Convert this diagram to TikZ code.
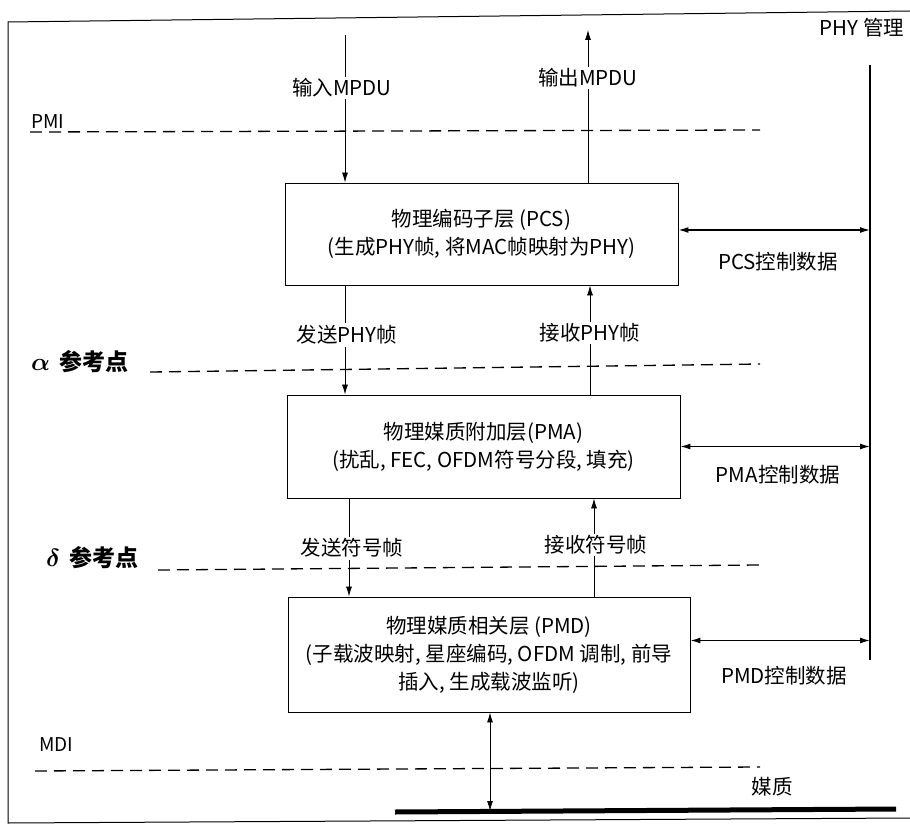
\documentclass[tikz,border=0pt]{standalone}
\usepackage{fontspec}
\usepackage{bm}
\setmainfont{Noto Sans CJK SC}
\usetikzlibrary{arrows.meta}
\begin{document}
\begin{tikzpicture}[x=1pt,y=-1pt,
  every node/.style={font=\fontsize{20.5}{28}\selectfont, inner sep=1pt},
  layerbox/.style={draw, line width=0.9pt, align=center, minimum width=393pt, minimum height=102pt},
  flow/.style={line width=0.8pt, -{Latex[length=10pt,width=6pt]}},
  ctrl/.style={line width=1.3pt, {Latex[length=10pt,width=6pt]}-{Latex[length=10pt,width=6pt]}},
  refline/.style={line width=1.3pt, dash pattern=on 12pt off 7pt},
  lbl/.style={fill=white, inner sep=2pt},
  reflbl/.style={font=\fontsize{23}{25}\selectfont\bfseries, anchor=west},
  frameline/.style={line width=1pt}
]
\useasboundingbox (0,0) rectangle (910,826);
% frame
\coordinate (fTL) at (8,22);
\coordinate (fTR) at (910,11);
\coordinate (fBL) at (8,823);
\coordinate (fBR) at (910,818);
\draw[frameline] (fTR) -- (fTL) -- (fBL) -- (fBR);

% boxes
\node[layerbox] (pcs) at (481.5,234) {物理编码子层 (PCS)\\(生成PHY帧, 将MAC帧映射为PHY)};
\node[layerbox, minimum height=103pt] (pma) at (483.5,446.5) {物理媒质附加层(PMA)\\(扰乱, FEC, OFDM符号分段, 填充)};
\node[layerbox, minimum width=402pt, minimum height=115pt] (pmd) at (489,654.5) {物理媒质相关层 (PMD)\\(子载波映射, 星座编码, OFDM 调制, 前导\\插入, 生成载波监听)};

% PHY management
\node (mgmtlbl) at (862,28) {PHY 管理};
\coordinate (mT) at (870,65);
\coordinate (mB) at (870,660);
\draw[line width=2.6pt] (mT) -- (mB);

% reference lines
\node[reflbl, font=\fontsize{19}{22}\selectfont] (pmi) at (30,122) {PMI};
\coordinate (pmiL) at (30,132); \coordinate (pmiR) at (760,130);
\draw[refline] (pmiL) -- (pmiR);
\node[reflbl] (alpha) at (30,362) {$\bm{\alpha}$\, 参考点};
\coordinate (aL) at (150,372); \coordinate (aR) at (760,364);
\draw[refline] (aL) -- (aR);
\node[reflbl] (delta) at (45,558) {$\bm{\delta}$\, 参考点};
\coordinate (dL) at (158,570); \coordinate (dR) at (760,565);
\draw[refline] (dL) -- (dR);
\node[reflbl, font=\fontsize{19}{22}\selectfont] (mdi) at (38,745) {MDI};
\coordinate (mdiL) at (35,771); \coordinate (mdiR) at (760,767);
\draw[refline] (mdiL) -- (mdiR);

% input / output MPDU
\coordinate (inT) at (345,35);
\draw[flow] (inT) -- (inT |- pcs.north);
\node[lbl] (inl) at (342,88) {输入MPDU};
\coordinate (outT) at (588,30);
\draw[flow] (outT |- pcs.north) -- (outT);
\node[lbl] (outl) at (588,78) {输出MPDU};

% PCS <-> PMA
\coordinate (s1) at (345,300);
\draw[flow] (s1 |- pcs.south) -- (s1 |- pma.north);
\node[lbl] (s1l) at (347,335) {发送PHY帧};
\coordinate (r1) at (590,300);
\draw[flow] (r1 |- pma.north) -- (r1 |- pcs.south);
\node[lbl] (r1l) at (590,333) {接收PHY帧};

% PMA <-> PMD
\coordinate (s2) at (349,520);
\draw[flow] (s2 |- pma.south) -- (s2 |- pmd.north);
\node[lbl] (s2l) at (352,548) {发送符号帧};
\coordinate (r2) at (594,520);
\draw[flow] (r2 |- pmd.north) -- (r2 |- pma.south);
\node[lbl] (r2l) at (596,545) {接收符号帧};

% control data
\draw[ctrl] ([yshift=4pt]pcs.east) -- ([yshift=4pt]pcs.east -| mT);
\node (pcsc) at (778,262) {PCS控制数据};
\draw[ctrl] (pma.east) -- (pma.east -| mT);
\node (pmac) at (778,475) {PMA控制数据};
\draw[ctrl] ([yshift=14pt]pmd.east) -- ([yshift=14pt]pmd.east -| mT);
\node (pmdc) at (784,676) {PMD控制数据};

% medium
\coordinate (medL) at (395,812);
\coordinate (medR) at (896,809);
\draw[line width=5pt] (medL) -- (medR);
\node (medl) at (772,787) {媒质};
\coordinate (mx) at (490,811);
\draw[ctrl, line width=0.9pt] (mx |- pmd.south) -- (mx);
\end{tikzpicture}
\end{document}
